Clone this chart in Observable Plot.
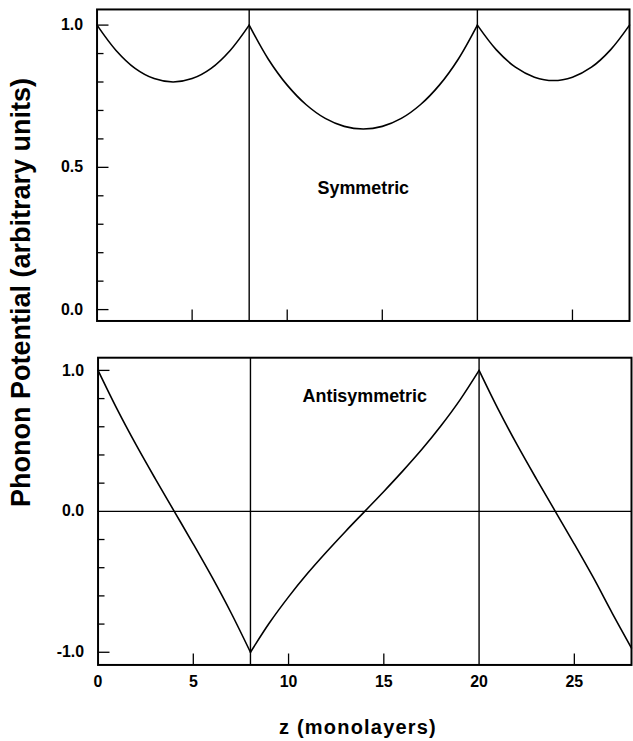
<!DOCTYPE html>
<html>
<head>
<meta charset="utf-8">
<script src="https://cdn.jsdelivr.net/npm/d3@7"></script>
<script src="https://cdn.jsdelivr.net/npm/@observablehq/plot@0.6"></script>
<style>
  html, body { margin: 0; padding: 0; background: #fff; }
  #wrap { position: relative; width: 633px; height: 741px; overflow: hidden; background: #fff;
          font-family: "Liberation Sans", Arial, Helvetica, sans-serif; font-weight: bold; color: #000; }
  #topPanel { position: absolute; left: 0; top: 0; }
  #botPanel { position: absolute; left: 0; top: 340px; }
  #ytitle { position: absolute; left: -279.5px; top: 279px; width: 600px; height: 27px; line-height: 27px;
            font-size: 27px; text-align: center; transform: rotate(-90deg); white-space: nowrap; z-index: 5; }
  #xtitle { position: absolute; left: 158px; top: 717px; width: 400px; height: 20px; line-height: 20px;
            font-size: 20px; letter-spacing: 1.2px; text-align: center; white-space: nowrap; z-index: 5; }
</style>
</head>
<body>
<div id="wrap">
  <div id="topPanel"></div>
  <div id="botPanel"></div>
  <div id="ytitle">Phonon Potential (arbitrary units)</div>
  <div id="xtitle">z (monolayers)</div>
</div>
<script>
// ---- data ----
const zA = [0, 1, 2, 3, 4, 5, 6, 7, 8];
const zB = [8, 9, 10, 11, 12, 13, 14, 15, 16, 17, 18, 19, 20];
const zC = [20, 21, 22, 23, 24, 25, 26, 27, 28];

// Symmetric potential (top panel)
const symA = [1.00, 0.911, 0.848, 0.812, 0.800, 0.812, 0.848, 0.911, 1.00];
const symB = [1.00, 0.881, 0.789, 0.720, 0.672, 0.644, 0.635, 0.644, 0.672, 0.720, 0.789, 0.881, 1.00];
const symC = [1.00, 0.913, 0.852, 0.817, 0.805, 0.817, 0.852, 0.913, 1.00];

// Antisymmetric potential (bottom panel)
const antiA = [1.00, 0.725, 0.471, 0.232, 0.00, -0.232, -0.471, -0.725, -1.00];
const antiB = [-1.00, -0.791, -0.607, -0.440, -0.287, -0.141, 0.00, 0.141, 0.287, 0.440, 0.607, 0.791, 1.00];
const antiC = [1.00, 0.725, 0.471, 0.232, 0.00, -0.232, -0.471, -0.725, -0.97];

// interfaces and ticks
const interfaces = [8, 20];
const xTickValues = [5, 10, 15, 25];
const xLabelValues = [0, 5, 10, 15, 20, 25];
const yTopMajor = [0, 0.5, 1];
const yTopMinor = [0.1, 0.2, 0.3, 0.4, 0.6, 0.7, 0.8, 0.9];
const yBotLabels = [-1, 0, 1];
const yBotMajor = [-1, 1];
const yBotMinor = [-0.8, -0.6, -0.4, -0.2, 0.2, 0.4, 0.6, 0.8];
const panelLabels = ["Symmetric", "Antisymmetric"];

// ---- build tables ----
function table(zs, vs, seg) { return zs.map((z, i) => ({z, v: vs[i], seg})); }
const symData = [...table(zA, symA, "a"), ...table(zB, symB, "b"), ...table(zC, symC, "c")];
const antiData = [...table(zA, antiA, "a"), ...table(zB, antiB, "b"), ...table(zC, antiC, "c")];

const FONT = '"Liberation Sans", Arial, Helvetica, sans-serif';
const fmt = d => d.toFixed(1);
const blank = () => "";

const topPlot = Plot.plot({
  width: 636, height: 340,
  marginLeft: 97, marginRight: 4, marginTop: 9, marginBottom: 18,
  x: {domain: [0, 28]},
  y: {domain: [-0.04, 1.055]},
  style: {fontFamily: FONT, background: "white", color: "black"},
  marks: [
    Plot.axisY({ticks: yTopMinor, tickSize: -7, tickFormat: blank, label: null, strokeWidth: 1.3}),
    Plot.axisY({ticks: yTopMajor, tickSize: -12, tickFormat: blank, label: null, strokeWidth: 1.3}),
    Plot.axisY({ticks: yTopMajor, tickSize: 0, tickPadding: 14, tickFormat: fmt, label: null,
                fontSize: 16, fontWeight: "bold"}),
    Plot.axisX({ticks: xTickValues, anchor: "bottom", tickSize: -11, tickFormat: blank, label: null, strokeWidth: 1.3}),
    Plot.ruleX(interfaces, {strokeWidth: 1.4}),
    Plot.line(symData, {x: "z", y: "v", z: "seg", curve: "catmull-rom", strokeWidth: 1.6}),
    Plot.text([panelLabels[0]], {x: 14, y: 0.427, text: d => d, fontSize: 18, fontWeight: "bold", fill: "black"}),
    Plot.frame({strokeWidth: 2})
  ]
});
document.getElementById("topPanel").appendChild(topPlot);

const botPlot = Plot.plot({
  width: 636, height: 401,
  marginLeft: 98, marginRight: 2, marginTop: 17.3, marginBottom: 75,
  x: {domain: [0, 28]},
  y: {domain: [-1.09, 1.09]},
  style: {fontFamily: FONT, background: "white", color: "black"},
  marks: [
    Plot.axisY({ticks: yBotMinor, tickSize: -7, tickFormat: blank, label: null, strokeWidth: 1.3}),
    Plot.axisY({ticks: yBotMajor, tickSize: -12, tickFormat: blank, label: null, strokeWidth: 1.3}),
    Plot.axisY({ticks: yBotLabels, tickSize: 0, tickPadding: 14, tickFormat: fmt, label: null,
                fontSize: 16, fontWeight: "bold"}),
    Plot.axisX({ticks: xTickValues, anchor: "bottom", tickSize: -11, tickFormat: blank, label: null, strokeWidth: 1.3}),
    Plot.axisX({ticks: xLabelValues, anchor: "bottom", tickSize: 0, tickPadding: 11, tickFormat: d => String(d),
                label: null, fontSize: 16, fontWeight: "bold"}),
    Plot.ruleX(interfaces, {strokeWidth: 1.4}),
    Plot.ruleY([0], {strokeWidth: 1.4}),
    Plot.line(antiData, {x: "z", y: "v", z: "seg", curve: "catmull-rom", strokeWidth: 1.6}),
    Plot.text([panelLabels[1]], {x: 14, y: 0.813, text: d => d, fontSize: 18, fontWeight: "bold", fill: "black"}),
    Plot.frame({strokeWidth: 2})
  ]
});
document.getElementById("botPanel").appendChild(botPlot);
</script>
</body>
</html>
